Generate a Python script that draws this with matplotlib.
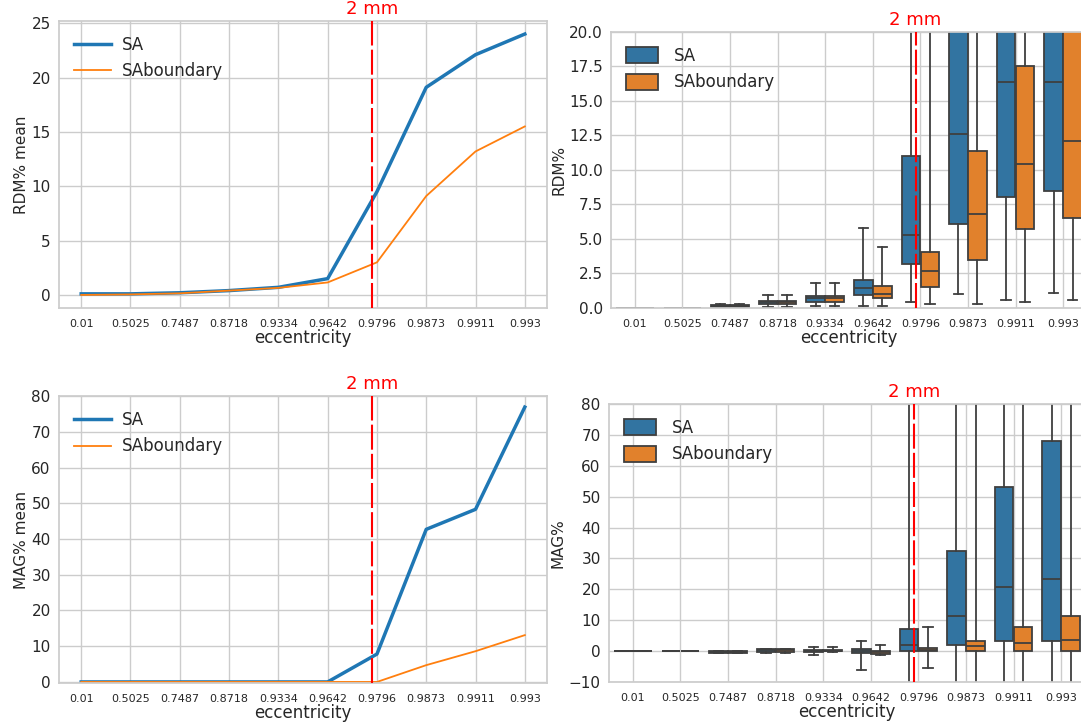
import numpy as np
import matplotlib

matplotlib.use("Agg")
import matplotlib.pyplot as plt
from matplotlib.patches import Patch
import matplotlib.transforms as mtransforms

# eccentricity categories
ecc = ["0.01", "0.5025", "0.7487", "0.8718", "0.9334", "0.9642", "0.9796", "0.9873", "0.9911", "0.993"]
mm2_pos = 5.9  # where the 2 mm marker falls on the category axis

# mean curves
rdm_sa_mean = [0.1, 0.1, 0.2, 0.4, 0.7, 1.5, 9.5, 19.1, 22.1, 24.0]
rdm_bd_mean = [0.0, 0.05, 0.15, 0.4, 0.65, 1.15, 3.0, 9.1, 13.2, 15.5]
mag_sa_mean = [0.0, 0.0, 0.0, 0.0, 0.0, 0.0, 7.8, 42.7, 48.3, 76.9]
mag_bd_mean = [0.0, 0.0, 0.0, 0.0, 0.0, 0.0, 0.0, 4.7, 8.6, 13.1]

# box stats: whislo, q1, median, q3, whishi
rdm_sa_box = [
    [0, 0, 0, 0, 0],
    [0, 0, 0, 0, 0],
    [0.05, 0.1, 0.15, 0.2, 0.3],
    [0.1, 0.3, 0.4, 0.5, 0.95],
    [0.17, 0.4, 0.7, 0.9, 1.8],
    [0.17, 0.96, 1.45, 2.0, 5.8],
    [0.4, 3.2, 5.3, 11.0, 23.5],
    [1.0, 6.1, 12.6, 21.5, 45.0],
    [0.55, 8.05, 16.4, 25.0, 50.0],
    [1.1, 8.5, 16.4, 27.0, 55.0],
]
rdm_bd_box = [
    [0, 0, 0, 0, 0],
    [0, 0, 0, 0, 0],
    [0.05, 0.1, 0.15, 0.2, 0.3],
    [0.1, 0.3, 0.4, 0.5, 0.95],
    [0.17, 0.4, 0.7, 0.9, 1.8],
    [0.17, 0.72, 1.05, 1.57, 4.45],
    [0.3, 1.52, 2.65, 4.05, 22.0],
    [0.3, 3.47, 6.8, 11.4, 24.0],
    [0.43, 5.7, 10.45, 17.5, 35.0],
    [0.55, 6.55, 12.1, 21.0, 40.0],
]
mag_sa_box = [
    [0, 0, 0, 0, 0],
    [0, 0, 0, 0, 0],
    [-0.6, -0.5, -0.3, -0.1, 0.0],
    [-0.5, -0.3, 0.2, 0.6, 0.8],
    [-1.1, -0.2, 0.0, 0.3, 1.4],
    [-6.2, -0.7, 0.0, 0.7, 3.2],
    [-15.0, 0.0, 1.9, 7.0, 95.0],
    [-15.0, 1.95, 11.3, 32.5, 110.0],
    [-15.0, 3.2, 20.8, 53.0, 140.0],
    [-15.0, 3.2, 23.2, 68.0, 160.0],
]
mag_bd_box = [
    [0, 0, 0, 0, 0],
    [0, 0, 0, 0, 0],
    [-0.6, -0.5, -0.3, -0.1, 0.0],
    [-0.5, -0.3, 0.2, 0.6, 0.8],
    [-0.4, 0.0, 0.1, 0.3, 1.4],
    [-1.1, -0.8, -0.4, 0.1, 1.9],
    [-5.4, 0.0, 0.5, 1.0, 7.7],
    [-15.0, 0.0, 1.6, 3.2, 90.0],
    [-15.0, 0.0, 2.7, 7.7, 100.0],
    [-15.0, 0.0, 3.5, 11.3, 120.0],
]

BLUE_LINE = "#1f77b4"
ORANGE_LINE = "#ff7f0e"
BLUE_BOX = "#3274a1"
ORANGE_BOX = "#e1812c"
EDGE = "#3f3f3f"
GRID = "#cccccc"
TXT = "#262626"

plt.rcParams.update({
    "font.family": "DejaVu Sans",
    "axes.edgecolor": GRID,
    "axes.linewidth": 1.25,
    "grid.color": GRID,
    "grid.linewidth": 1.0,
    "text.color": TXT,
    "axes.labelcolor": TXT,
    "xtick.color": TXT,
    "ytick.color": TXT,
    "xtick.major.size": 0,
    "ytick.major.size": 0,
})


def style_axes(ax, ylabel):
    ax.set_axisbelow(True)
    ax.grid(True)
    ax.set_xticks(np.arange(len(ecc)))
    ax.set_xticklabels(ecc, fontsize=8)
    ax.tick_params(axis="y", labelsize=11, pad=6)
    ax.tick_params(axis="x", pad=8)
    ax.set_xlabel("eccentricity", fontsize=12, labelpad=0)
    ax.set_ylabel(ylabel, fontsize=11, labelpad=2)


def mark_2mm(ax):
    ax.axvline(mm2_pos, color="red", linestyle=(0, (12, 2)), linewidth=1.5, zorder=10)
    trans = mtransforms.blended_transform_factory(ax.transData, ax.transAxes)
    ax.text(mm2_pos, 1.01, "2 mm", color="red", fontsize=13, ha="center", va="bottom", transform=trans)


def line_panel(ax, sa, bd, ylabel):
    x = np.arange(len(ecc))
    ax.plot(x, sa, color=BLUE_LINE, linewidth=2.5, label="SA")
    ax.plot(x, bd, color=ORANGE_LINE, linewidth=1.3, label="SAboundary")
    style_axes(ax, ylabel)
    mark_2mm(ax)
    ax.legend(loc="upper left", frameon=False, fontsize=12, handlelength=2.2, handletextpad=0.7)


def box_panel(ax, sa_box, bd_box, ylabel):
    x = np.arange(len(ecc))
    for boxes, offset, color in ((sa_box, -0.2, BLUE_BOX), (bd_box, 0.2, ORANGE_BOX)):
        stats = [
            {"whislo": b[0], "q1": b[1], "med": b[2], "q3": b[3], "whishi": b[4]}
            for b in boxes
        ]
        ax.bxp(
            stats,
            positions=x + offset,
            widths=0.39,
            showfliers=False,
            patch_artist=True,
            manage_ticks=False,
            boxprops=dict(facecolor=color, edgecolor=EDGE, linewidth=1.3),
            medianprops=dict(color=EDGE, linewidth=1.3),
            whiskerprops=dict(color=EDGE, linewidth=1.3),
            capprops=dict(color=EDGE, linewidth=1.3),
        )
    ax.set_xlim(-0.5, len(ecc) - 0.5)
    style_axes(ax, ylabel)
    mark_2mm(ax)
    handles = [
        Patch(facecolor=BLUE_BOX, edgecolor=EDGE, linewidth=1.3, label="SA"),
        Patch(facecolor=ORANGE_BOX, edgecolor=EDGE, linewidth=1.3, label="SAboundary"),
    ]
    ax.legend(handles=handles, loc="upper left", frameon=False, fontsize=12,
              handlelength=1.9, handleheight=1.1, handletextpad=1.0)


fig = plt.figure(figsize=(10.81, 7.24), dpi=100)
ax_tl = fig.add_axes([0.0546, 0.5746, 0.4514, 0.3964])
ax_tr = fig.add_axes([0.5652, 0.5746, 0.4403, 0.3812])
ax_bl = fig.add_axes([0.0546, 0.0566, 0.4514, 0.3964])
ax_br = fig.add_axes([0.5634, 0.0580, 0.4403, 0.3840])

line_panel(ax_tl, rdm_sa_mean, rdm_bd_mean, "RDM% mean")
ax_tl.set_yticks([0, 5, 10, 15, 20, 25])

box_panel(ax_tr, rdm_sa_box, rdm_bd_box, "RDM%")
ax_tr.set_ylim(0, 20)
ax_tr.set_yticks(np.arange(0, 20.1, 2.5))
ax_tr.set_yticklabels([f"{v:.1f}" for v in np.arange(0, 20.1, 2.5)])

line_panel(ax_bl, mag_sa_mean, mag_bd_mean, "MAG% mean")
ax_bl.set_ylim(-0.3, 80)
ax_bl.set_yticks(np.arange(0, 81, 10))

box_panel(ax_br, mag_sa_box, mag_bd_box, "MAG%")
ax_br.set_ylim(-10, 80)
ax_br.set_yticks(np.arange(-10, 81, 10))

fig.savefig("out.png", dpi=100)
plt.close(fig)
